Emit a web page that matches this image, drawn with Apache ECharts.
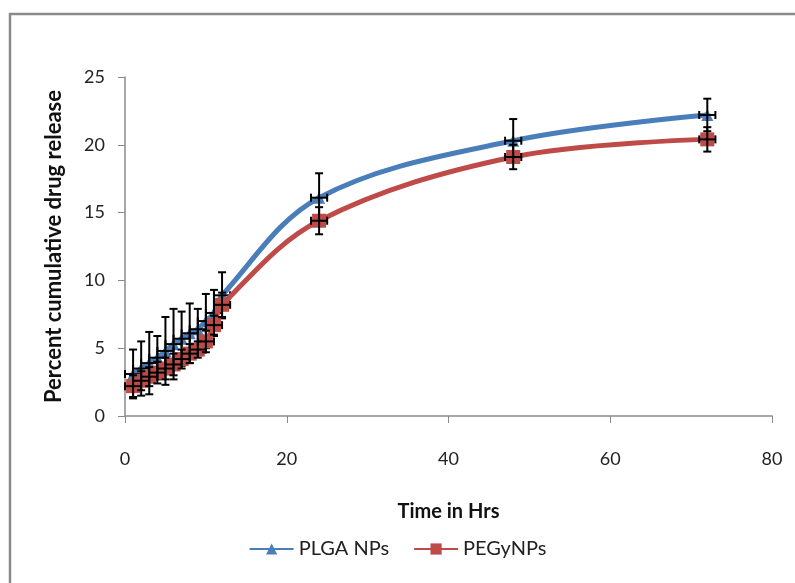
<!DOCTYPE html>
<html><head><meta charset="utf-8">
<script src="https://cdn.jsdelivr.net/npm/echarts@6/dist/echarts.min.js"></script>
<style>html,body{margin:0;padding:0;background:#fff}#c{width:795px;height:583px}</style>
</head><body><div id="c"></div>
<script>
const hours = [1,2,3,4,5,6,7,8,9,10,11,12,24,48,72];
const plga = [3.1,3.5,3.9,4.3,4.8,5.3,5.7,6.1,6.4,7.0,7.6,8.9,16.1,20.3,22.2];
const plgaErr = [1.8,2.0,2.3,1.6,2.5,2.6,2.0,2.2,1.5,2.0,1.7,1.7,1.8,1.6,1.2];
const pegy = [2.2,2.6,2.9,3.2,3.5,3.8,4.2,4.6,4.9,5.5,6.7,8.2,14.4,19.1,20.4];
const pegyErr = [0.8,0.7,0.7,0.8,0.8,0.8,0.7,0.7,0.6,0.8,0.7,0.9,1.0,0.9,0.9];
const xErr = 1;
const xTicks = [0,20,40,60,80];
const yTicks = [0,5,10,15,20,25];
const names = ['PLGA NPs','PEGyNPs'];

const FONT = 'Lato, "Liberation Sans", sans-serif';
const chart = echarts.init(document.getElementById('c'));

function errSeries(vals, errs, z) {
  const data = hours.map((h,i)=>[h, vals[i], errs[i]]);
  return {
    type: 'custom', z: z, silent: true,
    data: data,
    renderItem: function(params, api) {
      const x = api.value(0), y = api.value(1), e = api.value(2);
      const c = api.coord([x, y]);
      const top = api.coord([x, y + e]);
      const bot = api.coord([x, y - e]);
      const l = api.coord([x - xErr, y]);
      const r = api.coord([x + xErr, y]);
      const cap = 4;
      const st = {stroke:'#000', lineWidth:2};
      return {type:'group', children:[
        {type:'line', shape:{x1:c[0],y1:top[1],x2:c[0],y2:bot[1]}, style:st},
        {type:'line', shape:{x1:c[0]-cap,y1:top[1],x2:c[0]+cap,y2:top[1]}, style:st},
        {type:'line', shape:{x1:c[0]-cap,y1:bot[1],x2:c[0]+cap,y2:bot[1]}, style:st},
        {type:'line', shape:{x1:l[0],y1:c[1],x2:r[0],y2:c[1]}, style:st},
        {type:'line', shape:{x1:l[0],y1:c[1]-cap,x2:l[0],y2:c[1]+cap}, style:st},
        {type:'line', shape:{x1:r[0],y1:c[1]-cap,x2:r[0],y2:c[1]+cap}, style:st}
      ]};
    }
  };
}

chart.setOption({
  animation: false,
  graphic: [{type:'rect', shape:{x:10, y:14, width:800, height:600}, style:{fill:'none', stroke:'#8a8a8a', lineWidth:2.5}, z:-1}],
  grid: {left:125, right:23, top:77, bottom:167},
  legend: {
    data: names, bottom: 19, left: 'center', itemWidth: 44, itemHeight: 14, itemGap: 24,
    textStyle: {fontFamily: FONT, fontSize: 20, color:'#222'}
  },
  xAxis: {
    type:'value', min:0, max:80, interval:20,
    name:'Time in Hrs', nameLocation:'middle', nameGap:86,
    nameTextStyle:{fontFamily:FONT, fontSize:20, fontWeight:'bold', color:'#111'},
    axisLine:{show:true, lineStyle:{color:'#8a8a8a', width:1.5}},
    axisTick:{show:true, length:7, lineStyle:{color:'#8a8a8a'}},
    axisLabel:{fontFamily:FONT, fontSize:18, color:'#222', margin:34},
    splitLine:{show:false}
  },
  yAxis: {
    type:'value', min:0, max:25, interval:5,
    name:'Percent cumulative drug release', nameLocation:'middle', nameGap:60,
    nameTextStyle:{fontFamily:FONT, fontSize:22, fontWeight:'bold', color:'#111'},
    axisLine:{show:true, lineStyle:{color:'#8a8a8a', width:1.5}},
    axisTick:{show:true, length:7, lineStyle:{color:'#8a8a8a'}},
    axisLabel:{fontFamily:FONT, fontSize:18, color:'#222', margin:20},
    splitLine:{show:false}
  },
  series: [
    {name:names[0], type:'line', smooth:0.35, data: hours.map((h,i)=>[h, plga[i]]),
     symbol:'triangle', symbolSize:12, lineStyle:{color:'#4a7ebb', width:5},
     itemStyle:{color:'#4a7ebb'}, z:3},
    errSeries(plga, plgaErr, 4),
    {name:names[1], type:'line', smooth:0.35, data: hours.map((h,i)=>[h, pegy[i]]),
     symbol:'rect', symbolSize:14, lineStyle:{color:'#be4b48', width:5},
     itemStyle:{color:'#be4b48'}, z:5},
    errSeries(pegy, pegyErr, 6)
  ]
});
</script></body></html>
